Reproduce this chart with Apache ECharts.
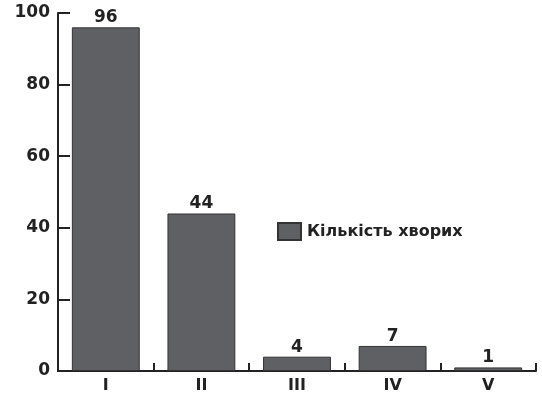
<!DOCTYPE html>
<html><head><meta charset="utf-8">
<script src="https://cdn.jsdelivr.net/npm/echarts@6/dist/echarts.min.js"></script>
<style>html,body{margin:0;padding:0;background:#fff}#c{width:542px;height:399px}</style>
</head><body><div id="c"></div>
<script>
var categories = ['I', 'II', 'III', 'IV', 'V'];
var values = [96, 44, 4, 7, 1];
var seriesName = 'Кількість хворих';
var yTicks = [0, 20, 40, 60, 80, 100];

var chart = echarts.init(document.getElementById('c'));
var font = 'DejaVu Sans, sans-serif';
chart.setOption({
  animation: false,
  grid: { left: 58, right: 6, top: 13, bottom: 28 },
  legend: {
    data: [{ name: seriesName, icon: 'rect' }],
    left: 272, top: 217,
    itemWidth: 23, itemHeight: 17, itemGap: 4,
    textStyle: { fontFamily: font, fontWeight: 'bold', fontSize: 16, color: '#222', padding: [0, 0, 0, 1] }
  },
  xAxis: {
    type: 'category', data: categories,
    axisLine: { lineStyle: { color: '#222', width: 2 } },
    axisTick: { show: true, length: -8, lineStyle: { color: '#222', width: 2 } },
    axisLabel: { fontFamily: font, fontWeight: 'bold', fontSize: 16, color: '#222', margin: 7 }
  },
  yAxis: {
    type: 'value', min: 0, max: 100, interval: 20,
    axisLine: { show: true, lineStyle: { color: '#222', width: 2 } },
    axisTick: { show: true, length: -12, lineStyle: { color: '#222', width: 2 } },
    splitLine: { show: false },
    axisLabel: { fontFamily: font, fontWeight: 'bold', fontSize: 17, color: '#222', margin: 8,
      formatter: function (v) { return yTicks.indexOf(v) >= 0 ? String(v) : ''; } }
  },
  series: [{
    name: seriesName, type: 'bar', data: values, barWidth: '71%',
    itemStyle: { color: '#5f6064', borderColor: '#333', borderWidth: 1 },
    label: { show: true, position: 'top', distance: 1, fontFamily: font, fontWeight: 'bold', fontSize: 17, color: '#222' }
  }]
});
</script></body></html>
